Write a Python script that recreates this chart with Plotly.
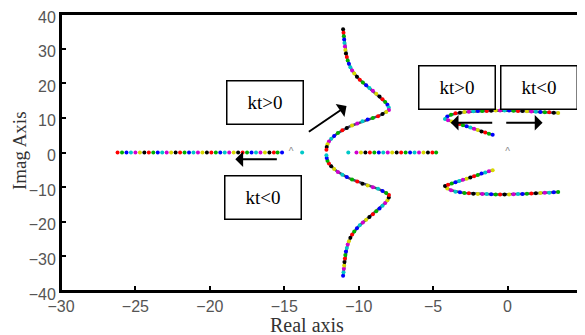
import plotly.graph_objects as go

# ---- data ----
# real-axis branch, left part (y = 0)
real_left_x = [-26.2, -25.9, -25.6, -25.3, -25.0, -24.7, -24.4, -24.1, -23.8, -23.5,
               -23.2, -22.9, -22.6, -22.3, -22.0, -21.7, -21.4, -21.1, -20.8, -20.5,
               -20.2, -19.9, -19.6, -19.3, -19.0, -18.7, -18.4, -18.1, -17.8, -17.5,
               -17.2, -16.9, -16.6, -16.3, -16.0, -15.7, -15.45, -15.15, -13.8]
# real-axis branch, middle part (y = 0)
real_mid_x = [-10.7, -10.15, -9.85, -9.55, -9.25, -8.95, -8.65, -8.35, -8.05, -7.75,
              -7.45, -7.15, -6.85, -6.55, -6.25, -5.95, -5.65, -5.35, -5.05, -4.8]

# main complex branch, upper half (lower half is its mirror image)
main_x = [-11.05, -11.02, -11.0, -10.98, -10.96, -10.93, -10.9, -10.86, -10.8, -10.74,
          -10.66, -10.56, -10.44, -10.3, -10.12, -9.93, -9.72, -9.5, -9.28, -9.05,
          -8.82, -8.6, -8.4, -8.22, -8.07, -7.98, -7.97, -8.15, -8.4, -8.7,
          -9.05, -9.4, -9.75, -10.1, -10.45, -10.8, -11.1, -11.4, -11.65, -11.85,
          -12.0, -12.1, -12.15, -12.17]
main_y = [35.6, 34.6, 33.6, 32.6, 31.6, 30.6, 29.6, 28.6, 27.6, 26.6,
          25.6, 24.6, 23.7, 22.8, 21.9, 21.0, 20.2, 19.4, 18.6, 17.8,
          17.0, 16.2, 15.4, 14.6, 13.8, 13.0, 12.3, 11.7, 11.1, 10.5,
          10.0, 9.5, 9.0, 8.4, 7.8, 7.1, 6.4, 5.6, 4.8, 4.0,
          3.2, 2.4, 1.6, 0.8]

# right complex branch, upper half (lower half mirrored)
right_x = [3.4, 3.1, 2.8, 2.5, 2.2, 1.9, 1.6, 1.3, 1.0, 0.7, 0.4, 0.1, -0.2, -0.5,
           -0.8, -1.1, -1.4, -1.7, -2.0, -2.3, -2.6, -2.9, -3.2, -3.5, -3.8, -4.05,
           -4.2, -4.0, -3.75, -3.5, -3.25, -3.0, -2.75, -2.5, -2.25, -2.0, -1.75,
           -1.5, -1.25, -1.0]
right_y = [11.4, 11.5, 11.6, 11.65, 11.7, 11.8, 11.85, 11.9, 12.0, 12.0, 12.05, 12.1,
           12.1, 12.1, 12.1, 12.05, 12.0, 12.0, 11.95, 11.9, 11.8, 11.7, 11.5, 11.3,
           10.9, 10.4, 9.7, 9.3, 8.95, 8.6, 8.25, 7.9, 7.55, 7.2, 6.85, 6.5, 6.1,
           5.75, 5.4, 5.1]

# open-loop markers (carets)
caret_x = [-14.55, 0.0]
caret_y = [0.0, 0.0]

x_ticks = [-30, -25, -20, -15, -10, -5, 0, 5]
y_ticks = [-40, -30, -20, -10, 0, 10, 20, 30, 40]

palette = ['#ff0000', '#00b000', '#0000ff', '#00c8c8', '#d000d0', '#d8d800', '#000000']


def cyc(n, off=0):
    return [palette[(i + off) % len(palette)] for i in range(n)]


fig = go.Figure()

branches = [
    (real_left_x, [0.0] * len(real_left_x), False),
    (real_mid_x, [0.0] * len(real_mid_x), False),
    (main_x, main_y, True),
    (main_x, [-v for v in main_y], True),
    (right_x, right_y, True),
    (right_x, [-v for v in right_y], True),
]
for k, (bx, by, joined) in enumerate(branches):
    if joined:
        fig.add_trace(go.Scatter(x=bx, y=by, mode='lines',
                                 line=dict(color='#4a4a6a', width=2.5),
                                 showlegend=False, hoverinfo='skip'))
    fig.add_trace(go.Scatter(x=bx, y=by, mode='markers',
                             marker=dict(size=4, color=cyc(len(bx), k * 3),
                                         line=dict(width=0)),
                             showlegend=False, hoverinfo='skip'))

fig.add_trace(go.Scatter(x=caret_x, y=caret_y, mode='text', text=['^', '^'],
                         textfont=dict(family='Liberation Sans', size=10, color='#888'),
                         showlegend=False, hoverinfo='skip'))

axis_common = dict(showline=True, linecolor='black', linewidth=2, mirror=True,
                   ticks='inside', ticklen=5, tickwidth=1.5, tickcolor='black',
                   showgrid=False, zeroline=False, automargin=False,
                   ticklabeloverflow='allow',
                   tickfont=dict(family='Liberation Sans', size=16, color='#555'))

fig.update_xaxes(range=[-30, 5], tickvals=x_ticks, **axis_common)
fig.update_yaxes(range=[-40, 40], tickvals=y_ticks, ticklabelshift=3, **axis_common)

box_font = dict(family='Liberation Serif', size=19, color='#000')
boxes = [('kt>0', -16.27, 14.3), ('kt<0', -16.44, -13.0),
         ('kt>0', -3.42, 18.9), ('kt<0', 2.1, 18.9)]
annotations = []
for txt, bx, by in boxes:
    annotations.append(dict(x=bx, y=by, xref='x', yref='y', text=txt, showarrow=False,
                            font=box_font, bordercolor='#000', borderwidth=1.5,
                            borderpad=0, bgcolor='white', width=75, height=42))

arrows = [(-10.82, 13.4, -13.45, 5.7), (-18.29, -1.96, -15.4, -1.96),
          (-3.82, 8.6, -0.93, 8.6), (2.35, 8.6, -0.19, 8.6)]
for hx, hy, tx, ty in arrows:
    annotations.append(dict(x=hx, y=hy, ax=tx, ay=ty, xref='x', yref='y',
                            axref='x', ayref='y', text='', showarrow=True,
                            arrowhead=1, arrowsize=1.3, arrowwidth=2, arrowcolor='#000'))

title_font = dict(family='Liberation Serif', size=20, color='#333')
annotations.append(dict(text='Real axis', xref='paper', yref='paper', x=0.473, y=0,
                        yshift=-34, yanchor='middle', xanchor='center',
                        showarrow=False, font=title_font))
annotations.append(dict(text='Imag Axis', xref='paper', yref='paper', x=0, y=0.505,
                        xshift=-42, yanchor='middle', xanchor='center', textangle=-90,
                        showarrow=False, font=dict(family='Liberation Serif', size=19,
                                                   color='#333')))

# the page body adds an 8px offset, so the figure is 8px smaller than the window
fig.update_layout(width=577, height=327, margin=dict(l=53, r=3, t=6, b=44),
                  plot_bgcolor='white', paper_bgcolor='white',
                  annotations=annotations,
                  shapes=[dict(type='rect', xref='paper', yref='paper', x0=0, x1=1,
                               y0=0, y1=1, line=dict(color='black', width=2),
                               layer='above')])

fig.write_html('out.html')
